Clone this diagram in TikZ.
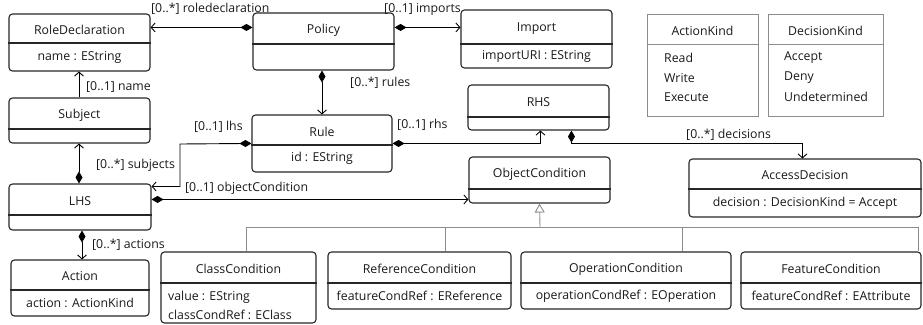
\documentclass[tikz,border=0pt]{standalone}
\usepackage{fontspec}
\setmainfont{Open Sans}
\usetikzlibrary{arrows.meta,calc}
\tikzset{
  x=1pt, y=-1pt,
  cls/.style={draw=black!85, rounded corners=3.5pt, line width=1.1pt, inner sep=0pt},
  clsdiv/.style={draw=black!85, line width=1.1pt},
  enm/.style={draw=black!45, line width=0.9pt, inner sep=0pt},
  enmdiv/.style={draw=black!45, line width=0.9pt},
  txt/.style={font=\fontsize{12.3}{14}\selectfont, inner sep=0pt, text=black!90},
  lbl/.style={txt, anchor=west},
  assoc/.style={line width=0.9pt, {Diamond[length=12pt,width=7pt]}-{Straight Barb[length=4pt,width=9pt]}},
  nav/.style={line width=0.9pt, -{Straight Barb[length=4pt,width=9pt]}},
  gen/.style={draw=black!45, line width=0.9pt},
  gentip/.style={draw=black!45, line width=0.9pt, -{Triangle[open,length=9pt,width=10pt,fill=white]}},
}
% name x1 y1 x2 y2 ydiv title attr
\newcommand\umlcls[8]{%
  \node[cls, minimum width={(#4-#2)*1pt}, minimum height={(#5-#3)*1pt}] (#1) at ({(#2+#4)/2},{(#3+#5)/2}) {};
  \draw[clsdiv] (#1.west |- 0,#6) -- (#1.east |- 0,#6);
  \node[txt] (#1-t) at ({(#2+#4)/2},{(#3+#6)/2+1.5}) {#7};
  \node[txt] (#1-a) at ({(#2+#4)/2},{(#6+#5)/2}) {#8};
}
\begin{document}
\begin{tikzpicture}
\useasboundingbox (0,0) rectangle (923,324);
% classes
\umlcls{RoleDeclaration}{9}{14}{150}{71}{43}{RoleDeclaration}{name : EString}
\umlcls{Policy}{253}{13}{394}{70}{44}{Policy}{}
\umlcls{Import}{461}{10}{612}{68}{44}{Import}{importURI : EString}
\umlcls{RHS}{468}{85}{609}{130}{117}{RHS}{}
\umlcls{Rule}{252}{115}{392}{172}{145}{Rule}{id : EString}
\umlcls{Subject}{9}{98}{150}{143}{129}{Subject}{}
\umlcls{LHS}{9}{184}{151}{230}{215}{LHS}{}
\umlcls{Action}{11}{260}{149}{316}{290}{Action}{action : ActionKind}
\umlcls{ObjectCondition}{469}{157}{610}{203}{189}{ObjectCondition}{}
\umlcls{AccessDecision}{689}{159}{921}{217}{189}{AccessDecision}{decision : DecisionKind = Accept}
\umlcls{ClassCondition}{161}{252}{316}{323}{283}{ClassCondition}{}
\node[txt, anchor=west] (cc-a1) at (168,297) {value : EString};
\node[txt, anchor=west] (cc-a2) at (168,315) {classCondRef : EClass};
\umlcls{ReferenceCondition}{328}{252}{511}{309}{283}{ReferenceCondition}{featureCondRef : EReference}
\umlcls{OperationCondition}{521}{252}{731}{309}{283}{OperationCondition}{operationCondRef : EOperation}
\umlcls{FeatureCondition}{741}{252}{921}{309}{283}{FeatureCondition}{featureCondRef : EAttribute}
% enumerations
\node[enm, minimum width=111pt, minimum height=102pt] (ActionKind) at (702.5,65) {};
\draw[enmdiv] (ActionKind.west |- 0,44) -- (ActionKind.east |- 0,44);
\node[txt] (ak-t) at (702.5,31) {ActionKind};
\node[txt, anchor=west] (ak-1) at (664,58) {Read};
\node[txt, anchor=west] (ak-2) at (664,78) {Write};
\node[txt, anchor=west] (ak-3) at (664,97) {Execute};
\node[enm, minimum width=115pt, minimum height=102pt] (DecisionKind) at (825.5,65) {};
\draw[enmdiv] (DecisionKind.west |- 0,44) -- (DecisionKind.east |- 0,44);
\node[txt] (dk-t) at (825.5,31) {DecisionKind};
\node[txt, anchor=west] (dk-1) at (784,58) {Accept};
\node[txt, anchor=west] (dk-2) at (784,78) {Deny};
\node[txt, anchor=west] (dk-3) at (784,97) {Undetermined};
% associations
\draw[assoc] ([yshift=-15pt]Policy.north west) -- ([yshift=-14pt]RoleDeclaration.north east);
\node[lbl] (l1) at (151,9) {[0..*] roledeclaration};
\draw[assoc] ([yshift=-15pt]Policy.north east) -- ([yshift=-18pt]Import.north west);
\node[lbl] (l2) at (384,9) {[0..1] imports};
\draw[assoc] ([xshift=-1.5pt]Policy.south) -- ([xshift=-1.5pt]Policy.south |- Rule.north);
\node[lbl] (l3) at (350,83) {[0..*] rules};
\coordinate (lhsbend) at (180,144);
\draw[assoc] ([yshift=-29pt]Rule.north west) -- (lhsbend) |- ([yshift=-3pt]LHS.north east);
\node[lbl] (l4) at (194,127) {[0..1] lhs};
\draw[nav] ([xshift=-0.5pt]Subject.north) -- ([xshift=-0.5pt]Subject.north |- RoleDeclaration.south);
\node[lbl] (l5) at (86,87) {[0..1] name};
\draw[assoc] ([xshift=-1pt]LHS.north) -- ([xshift=-1pt]LHS.north |- Subject.south);
\node[lbl] (l6) at (96,165) {[0..*] subjects};
\draw[assoc] ([yshift=-16pt]LHS.north east) -- ([yshift=-43pt]ObjectCondition.north west);
\node[lbl] (l7) at (185,188) {[0..1] objectCondition};
\draw[assoc] ([xshift=2pt]LHS.south) -- ([xshift=2pt]LHS.south |- Action.north);
\node[lbl] (l8) at (92,245) {[0..*] actions};
\draw[assoc] ([yshift=-29pt]Rule.north east) -| ([xshift=73pt]RHS.south west);
\node[lbl] (l9) at (397,125) {[0..1] rhs};
\draw[assoc] ([xshift=104pt]RHS.south west) -- ++(0,13) -| ([xshift=114pt]AccessDecision.north west);
\node[lbl] (l10) at (686,135) {[0..*] decisions};
% generalization
\coordinate (bus) at (540,227);
\draw[gen] ([xshift=7.5pt]ClassCondition.north) |- ([xshift=87pt]FeatureCondition.north |- bus) -- ([xshift=87pt]FeatureCondition.north);
\draw[gen] ([xshift=25.5pt]ReferenceCondition.north) -- ([xshift=25.5pt]ReferenceCondition.north |- bus);
\draw[gen] ([xshift=56pt]OperationCondition.north) -- ([xshift=56pt]OperationCondition.north |- bus);
\draw[gentip] (bus) -- (ObjectCondition.south);
\end{tikzpicture}
\end{document}
